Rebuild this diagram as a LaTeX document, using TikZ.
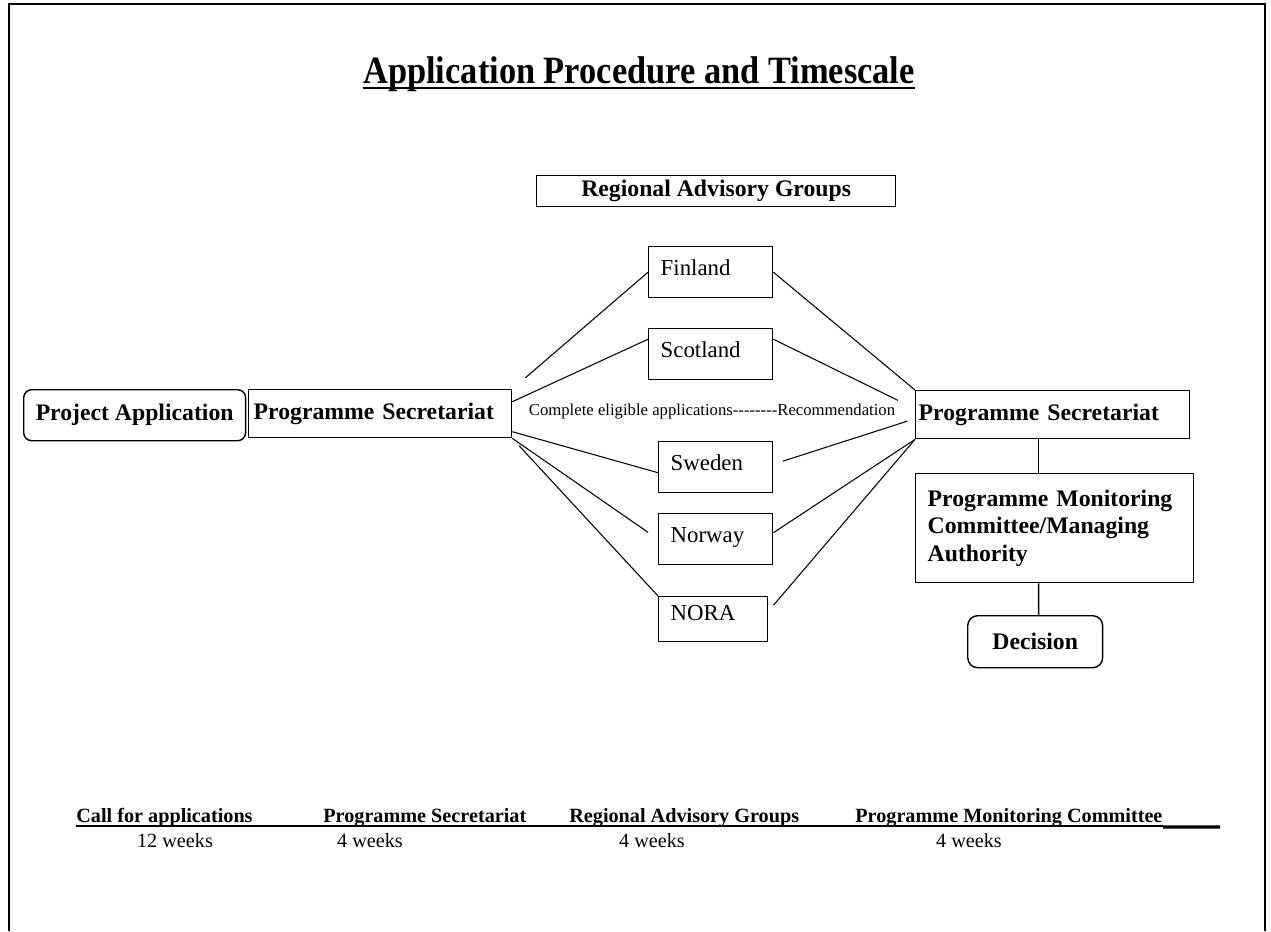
\documentclass[tikz,border=0pt]{standalone}
\usepackage{fontspec}
\setmainfont{Liberation Serif}[Ligatures=TeXOff]
\usepackage{tikz}
\usetikzlibrary{positioning,calc}
\newcommand{\bxfont}{\fontsize{13.5}{15.5}\selectfont\bfseries}
\newcommand{\ctyfont}{\fontsize{13}{15}\selectfont}
\newcommand{\midfont}{\fontsize{9.5}{11}\selectfont}
\newcommand{\tlfont}{\fontsize{11.5}{13}\selectfont}
\tikzstyle{plainbox}=[draw,line width=0.8pt,anchor=north west,inner ysep=0pt,font=\bxfont]
\tikzstyle{roundbox}=[plainbox,rounded corners=0.16cm]
\tikzstyle{country}=[plainbox,font=\ctyfont,align=left,inner xsep=0.24cm,text height=0.58cm,text depth=0.44cm]
\tikzstyle{link}=[line width=0.6pt]
\tikzstyle{frame}=[line width=1.4pt]

\begin{document}
\begin{tikzpicture}[x=0.02cm,y=-0.02cm]
\useasboundingbox (0,0) rectangle (1271,931);
\draw[frame] (9,931) -- (9,4) -- (1265,4) -- (1265,931);

\node[anchor=base,inner sep=0pt,font=\fontsize{22}{24}\selectfont\bfseries] (title) at (639,83) {\scalebox{0.89}[1]{Application Procedure and Timescale}};
\draw[line width=1.3pt] ([yshift=-0.1cm]title.base west) -- ([yshift=-0.1cm]title.base east);

\node[plainbox,minimum width=7.18cm,minimum height=0.62cm] (rag) at (536,175) {Regional Advisory Groups};

%countries
\node[country,text width=2.0cm] (fin) at (648,246) {Finland};
\node[country,text width=2.0cm] (sco) at (648,328) {Scotland};
\node[country,text width=1.8cm] (swe) at (658,441) {Sweden};
\node[country,text width=1.8cm] (nor) at (658,513) {Norway};
\node[country,text width=1.7cm,text height=0.48cm,text depth=0.42cm] (nora) at (658,596) {NORA};

\node[roundbox,minimum width=4.44cm,minimum height=1.02cm] (pa) at (23,389) {Project Application};
\node[plainbox,align=left,inner xsep=0.1cm,text width=5.06cm,minimum height=0.96cm] (ps1) at (248,389) {Programme Secretariat};
\node[plainbox,align=left,inner xsep=0.06cm,text width=5.36cm,minimum height=0.96cm] (ps2) at (915,390) {Programme Secretariat};
\node[plainbox,align=left,inner xsep=0.24cm,text width=5.08cm,minimum height=2.18cm] (pmc) at (915,473) {Programme Monitoring\\Committee/Managing\\Authority};
\node[roundbox,rounded corners=0.2cm,minimum width=2.7cm,minimum height=1.04cm] (dec) at (967,615) {Decision};

\node[anchor=base,inner sep=0pt,font=\midfont] (mid) at (712,415) {Complete eligible applications--------Recommendation};

\path
(ps1.north east) edge [link,shorten <=0.34cm] (fin.west)
([yshift=0.24cm]ps1.east) edge [link] ([yshift=0.3cm]sco.west)
([yshift=-0.36cm]ps1.east) edge [link] ([yshift=-0.11cm]swe.west)
(ps1.south east) edge [link,shorten >=0.24cm] (nor.west)
(ps1.south east) edge [link,shorten <=0.2cm] (nora.north west)

(fin.east) edge [link] (ps2.north west)
([yshift=0.3cm]sco.east) edge [link,shorten >=0.38cm] ([yshift=0.12cm]ps2.west)
([yshift=0.06cm]swe.east) edge [link,shorten <=0.2cm,shorten >=0.16cm] ([yshift=-0.08cm]ps2.west)
([yshift=0.13cm]nor.east) edge [link] (ps2.south west)
([yshift=0.16cm]nora.east) edge [link,shorten <=0.16cm] (ps2.south west)

([xshift=-0.28cm]ps2.south) edge [link,line width=0.8pt] ([xshift=-0.32cm]pmc.north)
([xshift=-0.32cm]pmc.south) edge [link,line width=0.8pt] ([xshift=0.07cm]dec.north)
;

%timescale
\node[anchor=base west,inner sep=0pt,font=\tlfont\bfseries] (call) at (76,822) {Call for applications};
\node[anchor=base west,inner sep=0pt,font=\tlfont\bfseries] (psl) at (323,822) {Programme Secretariat};
\node[anchor=base west,inner sep=0pt,font=\tlfont\bfseries] (ragl) at (569,822) {Regional Advisory Groups};
\node[anchor=base west,inner sep=0pt,font=\tlfont\bfseries] (pmcl) at (855,822) {Programme Monitoring Committee};
\coordinate (tlend) at (1220,827);
\draw[line width=0.9pt] ([yshift=-0.08cm]call.base west) -- ([yshift=-0.08cm]pmcl.base east);
\draw[line width=1.8pt] ([yshift=-0.1cm]pmcl.base east) -- (tlend);

\node[anchor=base,inner sep=0pt,font=\tlfont] (w1) at (175,847) {12 weeks};
\node[anchor=base,inner sep=0pt,font=\tlfont] (w2) at (370,847) {4 weeks};
\node[anchor=base,inner sep=0pt,font=\tlfont] (w3) at (652,847) {4 weeks};
\node[anchor=base,inner sep=0pt,font=\tlfont] (w4) at (969,847) {4 weeks};
\end{tikzpicture}
\end{document}
